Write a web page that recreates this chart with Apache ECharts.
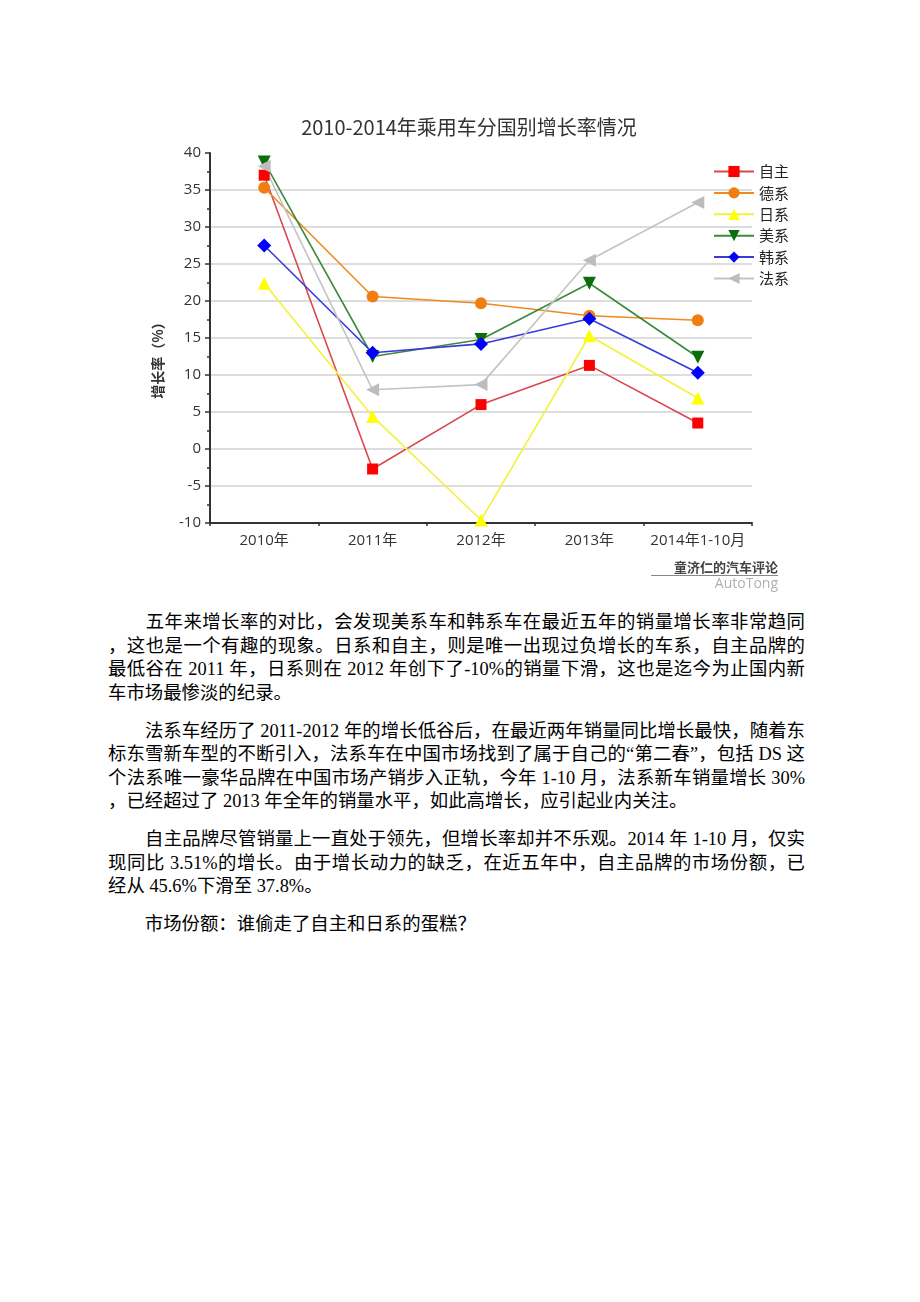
<!DOCTYPE html>
<html>
<head>
<meta charset="utf-8">
<script src="https://cdn.jsdelivr.net/npm/echarts@6/dist/echarts.min.js"></script>
<style>
  html, body { margin: 0; padding: 0; background: #fff; }
  #chart { position: absolute; left: 0; top: 0; width: 920px; height: 600px; }
  #text { position: absolute; left: 108px; top: 611px; width: 697px;
          font-family: "Liberation Serif", "Noto Sans CJK SC", serif; font-size: 18.4px;
          line-height: 23.5px; color: #000; }
  #text p { margin: 0 0 14.5px 0; }
  #text .l { display: block; white-space: nowrap; text-align: justify; text-align-last: justify; }
  #text .last { text-align: left; text-align-last: left; }
</style>
</head>
<body>
<div id="chart"></div>
<div id="text">
  <p>
    <span class="l">&#12288;&#12288;五年来增长率的对比，会发现美系车和韩系车在最近五年的销量增长率非常趋同</span>
    <span class="l">，这也是一个有趣的现象。日系和自主，则是唯一出现过负增长的车系，自主品牌的</span>
    <span class="l">最低谷在 2011 年，日系则在 2012 年创下了-10%的销量下滑，这也是迄今为止国内新</span>
    <span class="l last">车市场最惨淡的纪录。</span>
  </p>
  <p>
    <span class="l">&#12288;&#12288;法系车经历了 2011-2012 年的增长低谷后，在最近两年销量同比增长最快，随着东</span>
    <span class="l">标东雪新车型的不断引入，法系车在中国市场找到了属于自己的“第二春”，包括 DS 这</span>
    <span class="l">个法系唯一豪华品牌在中国市场产销步入正轨，今年 1-10 月，法系新车销量增长 30%</span>
    <span class="l last">，已经超过了 2013 年全年的销量水平，如此高增长，应引起业内关注。</span>
  </p>
  <p>
    <span class="l">&#12288;&#12288;自主品牌尽管销量上一直处于领先，但增长率却并不乐观。2014 年 1-10 月，仅实</span>
    <span class="l">现同比 3.51%的增长。由于增长动力的缺乏，在近五年中，自主品牌的市场份额，已</span>
    <span class="l last">经从 45.6%下滑至 37.8%。</span>
  </p>
  <p>
    <span class="l last">&#12288;&#12288;市场份额：谁偷走了自主和日系的蛋糕？</span>
  </p>
</div>
<script>
var categories = ['2010年', '2011年', '2012年', '2013年', '2014年1-10月'];
var seriesNames = ['自主', '德系', '日系', '美系', '韩系', '法系'];
var ziZhu = [37.0, -2.7, 6.0, 11.3, 3.51];
var deXi  = [35.3, 20.6, 19.7, 18.0, 17.4];
var riXi  = [22.4, 4.4, -9.6, 15.3, 6.9];
var meiXi = [38.8, 12.5, 14.8, 22.4, 12.4];
var hanXi = [27.5, 13.0, 14.2, 17.6, 10.3];
var faXi  = [38.2, 8.0, 8.7, 25.5, 33.3];
var yTicks = [-10, -5, 0, 5, 10, 15, 20, 25, 30, 35, 40];

var chart = echarts.init(document.getElementById('chart'), null, { renderer: 'canvas' });

function mk(name, data, lineColor, markColor, symbol, size, rotate) {
  return {
    name: name, type: 'line', data: data, xAxisIndex: 0, yAxisIndex: 0,
    symbol: symbol, symbolSize: size, symbolRotate: rotate || 0,
    showAllSymbol: true,
    lineStyle: { color: lineColor, width: 1.6 },
    itemStyle: { color: markColor, borderWidth: 0 },
    emphasis: { disabled: true },
    animation: false
  };
}

var splitColors = yTicks.map(function (v, i) { return i === yTicks.length - 1 ? 'rgba(0,0,0,0)' : '#d2d2d2'; });

chart.setOption({
  animation: false,
  backgroundColor: '#fff',
  grid: { left: 210, right: 168, top: 153, height: 370, containLabel: false },
  legend: {
    orient: 'vertical', left: 708, top: 159,
    itemWidth: 40, itemHeight: 14, itemGap: 6.4,
    textStyle: { fontSize: 15, color: '#222', fontFamily: 'Noto Sans CJK SC' },
    data: seriesNames
  },
  xAxis: [{
    type: 'category', data: categories, boundaryGap: true,
    axisLine: { onZero: false, lineStyle: { color: '#333', width: 2 } },
    axisTick: { alignWithLabel: true, length: 5, lineStyle: { color: '#333', width: 1.5 } },
    axisLabel: { interval: 0, margin: 10, fontSize: 15, color: '#333', fontFamily: 'Open Sans, Noto Sans CJK SC' },
    splitLine: { show: false }
  }, {
    type: 'category', data: categories, boundaryGap: true, position: 'bottom',
    axisLine: { show: false, onZero: false },
    axisTick: { show: true, interval: 0, length: 3, lineStyle: { color: '#333', width: 1.5 } },
    axisLabel: { show: false },
    splitLine: { show: false }
  }],
  yAxis: {
    type: 'value', min: -10, max: 40, interval: 5,
    axisLine: { show: true, onZero: false, lineStyle: { color: '#333', width: 2 } },
    axisTick: { show: true, length: 5, lineStyle: { color: '#333', width: 1.5 } },
    minorTick: { show: true, splitNumber: 2, length: 3, lineStyle: { color: '#333', width: 1.5 } },
    axisLabel: { margin: 9, fontSize: 15, color: '#333', fontFamily: 'Open Sans' },
    splitLine: { show: true, lineStyle: { color: splitColors, width: 1.5 } }
  },
  series: [
    mk('自主', ziZhu, '#d9474f', '#ff0000', 'rect', 11),
    mk('德系', deXi, '#f0891e', '#f07f12', 'circle', 12),
    mk('日系', riXi, '#f2f23a', '#ffff00', 'triangle', 13),
    mk('美系', meiXi, '#3c8a3c', '#0b6e0b', 'triangle', 13, 180),
    mk('韩系', hanXi, '#3a3ad8', '#0000ff', 'diamond', 14),
    mk('法系', faXi, '#c4c4c4', '#bdbdbd', 'triangle', 13, 90)
  ],
  graphic: [
    { type: 'text', style: { text: '2010-2014年乘用车分国别增长率情况', x: 469, y: 127,
        align: 'center', verticalAlign: 'middle', fontSize: 20, fill: '#333',
        fontFamily: 'Noto Sans CJK SC' } },
    { type: 'text', rotation: Math.PI / 2, x: 158, y: 357,
      style: { text: '增长率（%）', x: 0, y: 0, align: 'center', verticalAlign: 'middle',
        fontSize: 14, fontWeight: 'bold', fill: '#333', fontFamily: 'Noto Sans CJK SC' } },
    { type: 'text', style: { text: '童济仁的汽车评论', x: 778, y: 567, align: 'right',
        verticalAlign: 'middle', fontSize: 13, fontWeight: 'bold', fill: '#444',
        fontFamily: 'Noto Sans CJK SC' } },
    { type: 'line', shape: { x1: 651, y1: 575.5, x2: 778, y2: 575.5 },
      style: { stroke: '#888', lineWidth: 1 } },
    { type: 'text', style: { text: 'AutoTong', x: 778, y: 584, align: 'right',
        verticalAlign: 'middle', fontSize: 14, fill: '#b0b0b0',
        fontFamily: 'Open Sans' } }
  ]
});
</script>
</body>
</html>
